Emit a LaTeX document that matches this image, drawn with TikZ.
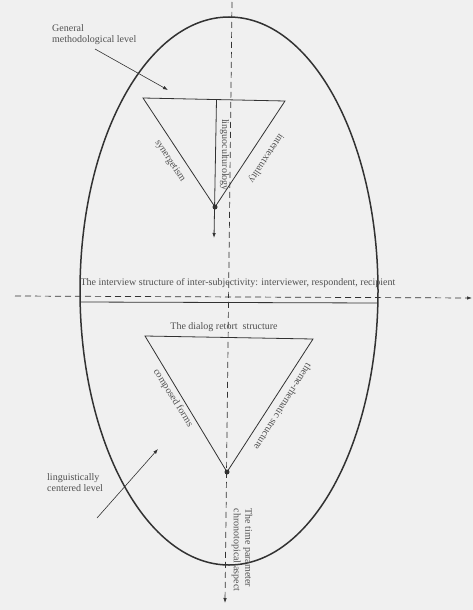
\documentclass[tikz,border=0pt]{standalone}
\usepackage{fontspec}
\setmainfont{Liberation Serif}
\usetikzlibrary{arrows.meta}
\definecolor{bgc}{RGB}{240,240,240}
\definecolor{ink}{RGB}{50,50,50}
\definecolor{txt}{RGB}{80,80,80}
\begin{document}
\begin{tikzpicture}[x=1pt,y=-1pt,
  lbl/.style={font=\fontsize{10}{11.5}\selectfont, text=txt, inner sep=0pt},
  triline/.style={draw=ink, line width=0.8pt},
  dashline/.style={draw=ink, dash pattern=on 6pt off 4pt, line width=0.7pt},
  arr/.style={-{Latex[length=5pt,width=3.5pt]}},
  ptr/.style={draw=ink, line width=0.6pt, -{Latex[length=5pt,width=3.5pt]}},
  apex/.style={circle, fill=ink, inner sep=0pt, minimum size=5pt}
]
\useasboundingbox (0,0) rectangle (473,610);
\fill[bgc] (0,0) rectangle (473,610);

% ellipse
\draw[ink, line width=1.5pt] (229,291) ellipse [x radius=149, y radius=274];

% axes
\coordinate (vt) at (232,2);
\coordinate (vb) at (225,603);
\draw[dashline, arr] (vt) -- (vb);
\coordinate (hl) at (15,296);
\coordinate (hr) at (472,298);
\draw[dashline, arr] (hl) -- (hr);
\coordinate (sl) at (80,302);
\coordinate (sr) at (378,303);
\draw[triline] (sl) -- (sr);

% upper triangle
\coordinate (A1) at (143,98);
\coordinate (B1) at (285,101);
\node[apex] (C1) at (215,207) {};
\draw[triline] (A1) -- (B1) -- (C1.center) -- cycle;
\coordinate (V1) at (216.5,99.5);
\coordinate (V1b) at (214,238);
\draw[triline, arr] (V1) -- (V1b);

\node[lbl, rotate=-90] (lingcult) at (224.5,155) {linguoculturology};
\node[lbl, rotate=-57] (syn) at (170,161) {synergetism};
\node[lbl, rotate=-123] (intert) at (266,158) {intertextuality};

% lower triangle
\coordinate (A2) at (145,336);
\coordinate (B2) at (313,339);
\node[apex] (C2) at (227,472) {};
\draw[triline] (A2) -- (B2) -- (C2.center) -- cycle;

\node[lbl] (dialog) at (224,327) {The dialog retort\ \ structure};
\node[lbl, rotate=-58] (comp) at (173,398) {composed forms};
\node[lbl, rotate=-122] (theme) at (283,407) {theme-rhematic structure};

% central text
\node[lbl] (inter) at (238,283) {The interview structure of inter-subjectivity: interviewer, respondent, recipient};

% time parameter
\node[lbl, rotate=-90, align=left] (time) at (242,550) {The time parameter\\chronotopical aspect};

% level labels with arrows
\node[lbl, align=left, anchor=north west] (gen) at (52,24) {General\\methodological level};
\coordinate (g1) at (95,49);
\coordinate (g2) at (168,90);
\draw[ptr] (g1) -- (g2);

\node[lbl, align=left, anchor=north west] (ling) at (47,473) {linguistically\\centered level};
\coordinate (l1) at (97,518);
\coordinate (l2) at (158,449);
\draw[ptr] (l1) -- (l2);
\end{tikzpicture}
\end{document}
